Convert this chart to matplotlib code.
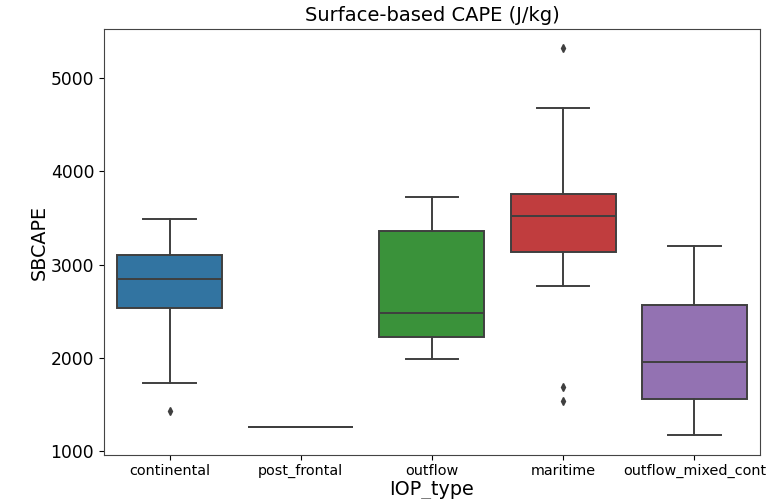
import matplotlib.pyplot as plt

# box statistics per IOP type (J/kg)
iop_types = ['continental', 'post_frontal', 'outflow', 'maritime', 'outflow_mixed_cont']
whisker_lo = [1727, 1255, 1982, 2769, 1172]
q1 = [2536, 1255, 2218, 3135, 1559]
median = [2841, 1255, 2476, 3521, 1950]
q3 = [3102, 1255, 3365, 3757, 2568]
whisker_hi = [3492, 1255, 3725, 4681, 3199]
fliers = [[1423], [], [], [5323, 1681, 1531], []]
colors = ['#3274a1', '#e1812c', '#3a923a', '#c03d3e', '#9372b2']

line_color = '#3f3f3f'

stats = []
for i, name in enumerate(iop_types):
    stats.append({
        'label': name,
        'whislo': whisker_lo[i],
        'q1': q1[i],
        'med': median[i],
        'q3': q3[i],
        'whishi': whisker_hi[i],
        'fliers': fliers[i],
    })

fig = plt.figure(figsize=(7.7, 4.99), dpi=100)
ax = fig.add_axes([0.135, 0.089, 0.852, 0.852])

bp = ax.bxp(stats, positions=range(len(iop_types)), widths=0.8,
            patch_artist=True, showfliers=True,
            boxprops=dict(edgecolor=line_color, linewidth=1.4),
            medianprops=dict(color=line_color, linewidth=1.4),
            whiskerprops=dict(color=line_color, linewidth=1.4),
            capprops=dict(color=line_color, linewidth=1.4),
            flierprops=dict(marker='d', markerfacecolor=line_color,
                            markeredgecolor=line_color, markersize=4))
for patch, c in zip(bp['boxes'], colors):
    patch.set_facecolor(c)

ax.set_xlim(-0.5, len(iop_types) - 0.5)
ax.set_ylim(957, 5527)
ax.set_yticks([1000, 2000, 3000, 4000, 5000])
ax.tick_params(axis='y', labelsize=12.3)
ax.tick_params(axis='x', labelsize=10.4)
ax.set_title('Surface-based CAPE (J/kg)', fontsize=14)
ax.set_xlabel('IOP_type', fontsize=13.8, labelpad=2)
ax.set_ylabel('SBCAPE', fontsize=13.8, labelpad=1)
for s in ax.spines.values():
    s.set_color('#444444')

fig.savefig('out.png', dpi=100)
